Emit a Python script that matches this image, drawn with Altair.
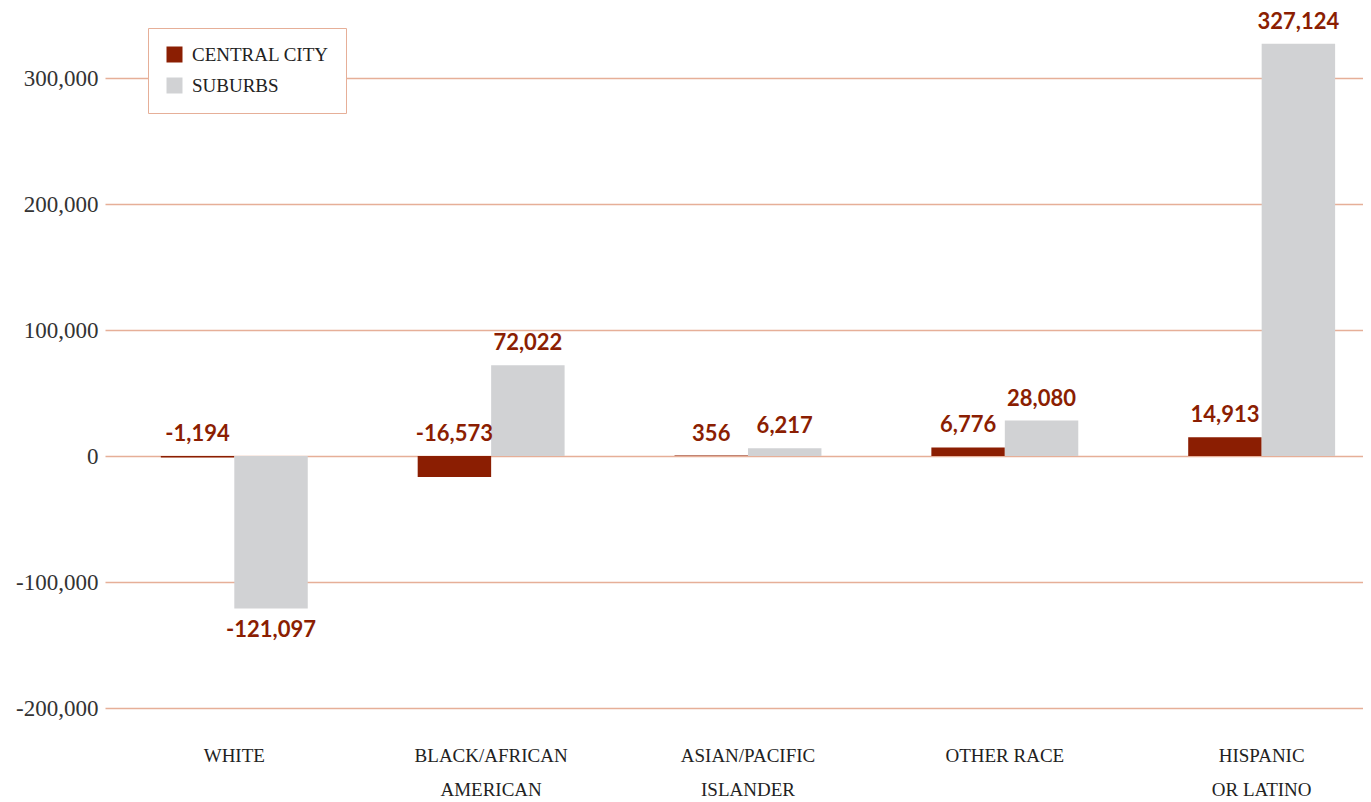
import altair as alt
import pandas as pd

categories = ["White", "Black/African American", "Asian/Pacific Islander", "Other Race", "Hispanic or Latino"]
category_lines = [["White"], ["Black/African", "American"], ["Asian/Pacific", "Islander"], ["Other Race"], ["Hispanic", "or Latino"]]
series = ["Central City", "Suburbs"]
central_city = [-1194, -16573, 356, 6776, 14913]
suburbs = [-121097, 72022, 6217, 28080, 327124]
y_ticks = [-200000, -100000, 0, 100000, 200000, 300000]

rows = []
for i, c in enumerate(categories):
    for s, vals in zip(series, [central_city, suburbs]):
        v = vals[i]
        rows.append({"category": c, "series": s, "value": v, "label": f"{v:,}"})
df = pd.DataFrame(rows)

RED = "#8B1E02"
GRAY = "#D1D2D4"
GRID = "#E6AF98"
SERIF = "Liberation Serif"
SANS = "Lato"

# multi-line x labels
expr_parts = []
for c, lines in zip(categories, category_lines):
    arr = "[" + ",".join("'" + l.upper() + "'" for l in lines) + "]"
    expr_parts.append(f"datum.label == '{c}' ? {arr}")
label_expr = " : ".join(expr_parts) + " : upper(datum.label)"

x_axis = alt.Axis(
    title=None, labelAngle=0, domain=False, ticks=False, grid=False,
    labelFont=SERIF, labelFontSize=19, labelColor="#222222",
    labelPadding=38, labelLineHeight=34, labelExpr=label_expr,
    labelBaseline="top",
)
y_axis = alt.Axis(
    title=None, values=y_ticks, domain=False, ticks=False,
    grid=True, gridColor=GRID, gridWidth=1.3, gridOpacity=1,
    labelFont=SERIF, labelFontSize=23, labelColor="#333333",
    labelPadding=7, minExtent=97, maxExtent=97,
    labelExpr="replace(format(datum.value, ','), '\u2212', '-')",
)
x_scale = alt.Scale(paddingInner=0.428, paddingOuter=0.163, align=0.667)
y_scale = alt.Scale(domain=[-200000, 355555.56], nice=False, zero=False)
xoff = alt.XOffset("series:N", sort=series, scale=alt.Scale(domain=series, paddingInner=0, paddingOuter=0))

base = alt.Chart(df)

bars = base.mark_bar().encode(
    x=alt.X("category:N", sort=categories, scale=x_scale, axis=x_axis),
    xOffset=xoff,
    y=alt.Y("value:Q", scale=y_scale, axis=y_axis),
    color=alt.Color(
        "series:N",
        scale=alt.Scale(domain=series, range=[RED, GRAY]),
        legend=alt.Legend(
            title=None, orient="none", legendX=43, legendY=20,
            symbolType="square", symbolSize=256, symbolStrokeWidth=0,
            labelFont=SERIF, labelFontSize=19, labelColor="#222222",
            labelExpr="upper(datum.label)", labelOffset=8,
            rowPadding=11, padding=17, strokeColor=GRID, fillColor="white",
            cornerRadius=0,
        ),
    ),
)

above = base.transform_filter(
    "datum.value >= 0 || datum.series == 'Central City'"
).transform_calculate(
    value="max(datum.value, 0)"
).mark_text(
    font=SANS, fontWeight="bold", fontSize=22, color=RED, baseline="alphabetic", dy=-15
).encode(
    x=alt.X("category:N", sort=categories, scale=x_scale, axis=x_axis),
    xOffset=xoff,
    y=alt.Y("value:Q", scale=y_scale, axis=y_axis),
    text="label:N",
)

below = base.transform_filter(
    "datum.value < 0 && datum.series != 'Central City'"
).mark_text(
    font=SANS, fontWeight="bold", fontSize=22, color=RED, baseline="alphabetic", dy=28
).encode(
    x=alt.X("category:N", sort=categories, scale=x_scale, axis=x_axis),
    xOffset=xoff,
    y=alt.Y("value:Q", scale=y_scale, axis=y_axis),
    text="label:N",
)

chart = alt.layer(bars, above, below).properties(
    width=1258, height=700, padding=0, background="white"
).configure_view(stroke=None, strokeWidth=0)

chart.save("out.html", embed_options={"renderer": "svg", "actions": False})
